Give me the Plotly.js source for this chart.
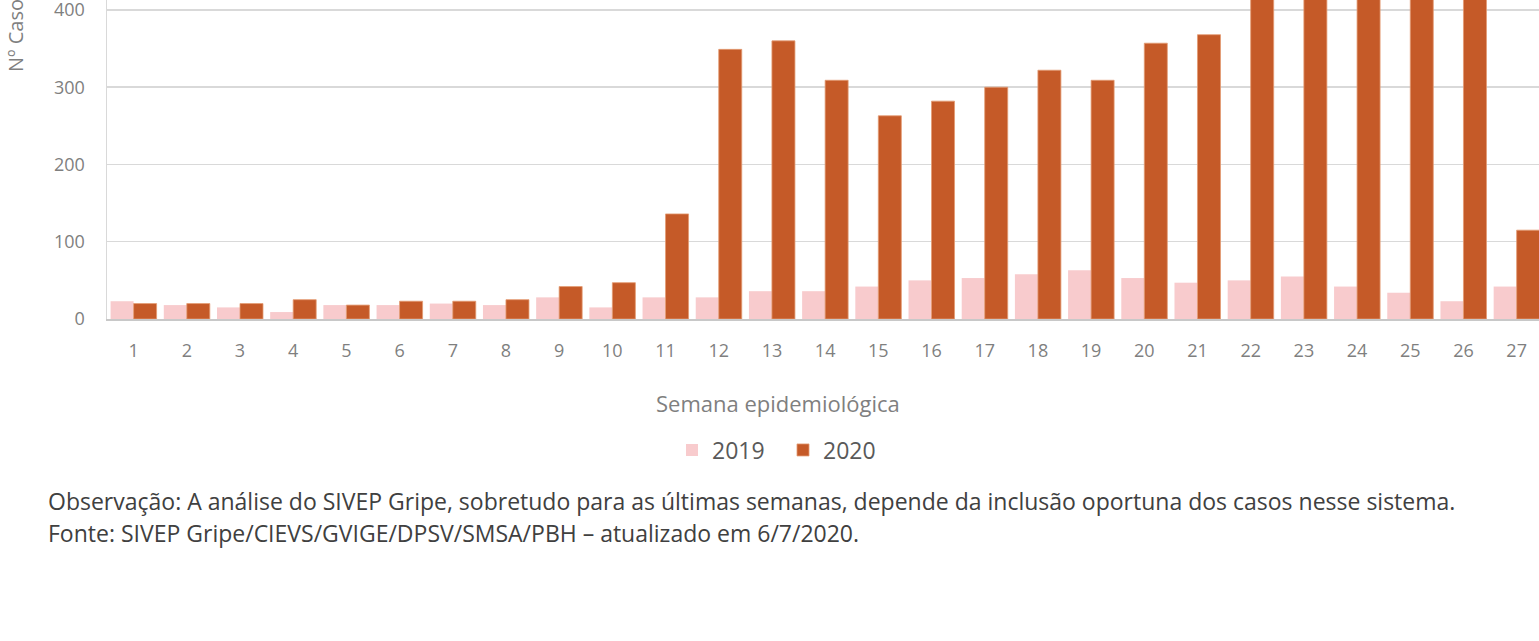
<!DOCTYPE html>
<html>
<head>
<meta charset="utf-8">
<script src="https://cdn.plot.ly/plotly-3.0.1.min.js"></script>
<style>
html,body{margin:0;padding:0;overflow:hidden;background:#fff;width:1539px;height:641px;}
#chart{position:absolute;left:0;top:-60px;width:1539px;height:701px;}
</style>
</head>
<body>
<div id="chart"></div>
<script>
const semanas = [1,2,3,4,5,6,7,8,9,10,11,12,13,14,15,16,17,18,19,20,21,22,23,24,25,26,27];
const tickLabels = semanas.map(String);
const casos2019 = [23,18,15,9,18,18,20,18,28,15,28,28,36,36,42,50,53,58,63,53,47,50,55,42,34,23,42];
const casos2020 = [20,20,20,25,18,23,23,25,42,47,136,349,360,309,263,282,300,322,309,357,368,440,470,520,480,430,115];
const nomes = ['2019','2020'];
const cores = ['#F8CBCD','#C55A28'];

const FONT = '"Open Sans", Lato, sans-serif';
const PH = 319; // plot height in px

const traces = [
  {type:'bar', name:nomes[0], x:semanas, y:casos2019,
   marker:{color:cores[0], line:{width:0}}, hoverinfo:'skip'},
  {type:'bar', name:nomes[1], x:semanas, y:casos2020,
   marker:{color:cores[1], line:{width:0.8, color:'#E39A72'}}, hoverinfo:'skip'}
];

function py(pagePx){ return (PH - pagePx) / PH; }
function px(pagePx){ return (pagePx - 107) / 1432; }

const layout = {
  width:1539, height:701,
  margin:{l:107, r:0, t:60, b:322, pad:0},
  paper_bgcolor:'#fff', plot_bgcolor:'#fff',
  barmode:'group', bargap:0.135, bargroupgap:0,
  font:{family:FONT, color:'#7f7f7f'},
  xaxis:{
    range:[0.5, 27.42], tickmode:'array', tickvals:semanas, ticktext:tickLabels,
    showgrid:false, zeroline:false, showline:true, linecolor:'#c8c8c8', linewidth:1.5,
    ticks:'outside', ticklen:15, tickcolor:'rgba(0,0,0,0)',
    tickfont:{family:FONT, size:18, color:'#7f7f7f'}, fixedrange:true
  },
  yaxis:{
    range:[0, 412.9], tickmode:'array', tickvals:[0,100,200,300,400], ticktext:['0','100','200','300','400'],
    showgrid:true, gridcolor:'#d9d9d9', gridwidth:1.5,
    zeroline:false, showline:true, linecolor:'#d9d9d9', linewidth:1.5,
    ticks:'outside', ticklen:17, tickcolor:'rgba(0,0,0,0)',
    tickfont:{family:FONT, size:18, color:'#7f7f7f'}, fixedrange:true
  },
  showlegend:true,
  legend:{orientation:'h', x:px(672), xanchor:'left', y:py(450), yanchor:'middle',
    font:{family:FONT, size:23, color:'#595959'}, itemwidth:30, traceorder:'normal',
    entrywidth:66, entrywidthmode:'pixels',
    bgcolor:'rgba(0,0,0,0)'},
  annotations:[
    {text:'Nº Casos', xref:'paper', yref:'paper', x:px(16), y:py(31),
     xanchor:'center', yanchor:'middle', textangle:-90, showarrow:false,
     font:{family:FONT, size:20, color:'#7f7f7f'}},
    {text:'Semana epidemiológica', xref:'paper', yref:'paper', x:px(778), y:py(403),
     xanchor:'center', yanchor:'middle', showarrow:false,
     font:{family:FONT, size:22, color:'#7f7f7f'}},
    {text:'Observação: A análise do SIVEP Gripe, sobretudo para as últimas semanas, depende da inclusão oportuna dos casos nesse sistema.',
     xref:'paper', yref:'paper', x:px(46), y:py(501), xanchor:'left', yanchor:'middle', showarrow:false,
     font:{family:FONT, size:23, color:'#404040'}},
    {text:'Fonte: SIVEP Gripe/CIEVS/GVIGE/DPSV/SMSA/PBH – atualizado em 6/7/2020.',
     xref:'paper', yref:'paper', x:px(46), y:py(533), xanchor:'left', yanchor:'middle', showarrow:false,
     font:{family:FONT, size:23, color:'#404040'}}
  ]
};

Plotly.newPlot('chart', traces, layout, {displayModeBar:false, staticPlot:true});
</script>
</body>
</html>
